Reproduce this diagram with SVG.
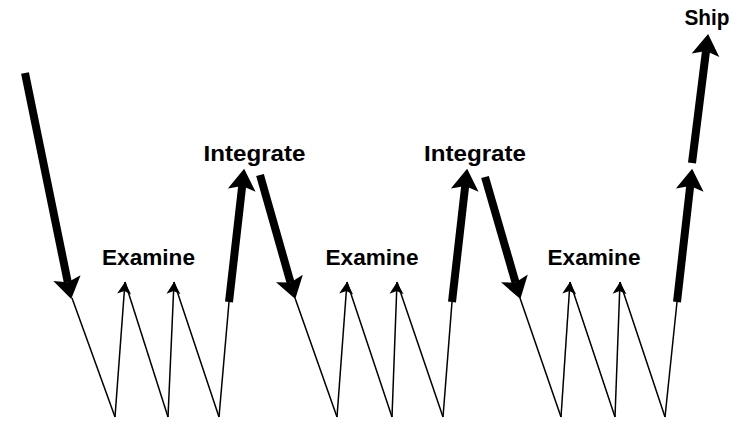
<svg xmlns="http://www.w3.org/2000/svg" width="741" height="421" viewBox="0 0 741 421">
  <style>
    .lbl { font-family: "Liberation Sans", Arial, sans-serif; font-weight: bold; font-size: 22px; fill: #000; text-anchor: middle; }
    .thick { stroke: #000; stroke-width: 8; fill: none; marker-end: url(#bigHead); }
    .thin { stroke: #000; stroke-width: 1.5; fill: none; }
    .thinUp { stroke: #000; stroke-width: 1.5; fill: none; marker-end: url(#smallHead); }
  </style>
  <defs>
    <marker id="bigHead" markerUnits="userSpaceOnUse" markerWidth="24" markerHeight="30" viewBox="0 -14 22 28" refX="4" refY="0" orient="auto" overflow="visible">
      <path d="M20,0 L0,-13 L4,0 L0,13 Z" fill="#000"/>
    </marker>
    <marker id="smallHead" markerUnits="userSpaceOnUse" markerWidth="14" markerHeight="16" viewBox="0 -8 13 16" refX="12" refY="0" orient="auto" overflow="visible">
      <path d="M12,0 L0,-7 L3,0 L0,7 Z" fill="#000"/>
    </marker>
  </defs>
  <rect width="741" height="421" fill="#fff"/>

  <g id="connectors">
    <!-- thick arrows -->
    <line class="thick" x1="25" y1="73" x2="67.8" y2="282.3"/>
    <line class="thick" x1="229" y1="302" x2="242.2" y2="185.9"/>
    <line class="thick" x1="260" y1="175" x2="290.6" y2="282.6"/>
    <line class="thick" x1="452" y1="302" x2="465.2" y2="185.9"/>
    <line class="thick" x1="485" y1="177" x2="515.6" y2="282.6"/>
    <line class="thick" x1="677" y1="302" x2="690.2" y2="185.9"/>
    <line class="thick" x1="692" y1="163" x2="706" y2="50.9"/>
    <!-- group 1 thin zigzag -->
    <line class="thin" x1="72" y1="298" x2="115" y2="417"/>
    <line class="thinUp" x1="115" y1="417" x2="125" y2="282"/>
    <line class="thin" x1="125" y1="282" x2="168" y2="417"/>
    <line class="thinUp" x1="168" y1="417" x2="174" y2="282"/>
    <line class="thin" x1="174" y1="282" x2="219" y2="417"/>
    <line class="thin" x1="219" y1="417" x2="229" y2="302"/>
    <!-- group 2 -->
    <line class="thin" x1="295" y1="298" x2="337" y2="417"/>
    <line class="thinUp" x1="337" y1="417" x2="347" y2="282"/>
    <line class="thin" x1="347" y1="282" x2="392" y2="417"/>
    <line class="thinUp" x1="392" y1="417" x2="397" y2="282"/>
    <line class="thin" x1="397" y1="282" x2="443" y2="417"/>
    <line class="thin" x1="443" y1="417" x2="452" y2="302"/>
    <!-- group 3 -->
    <line class="thin" x1="520" y1="298" x2="561" y2="417"/>
    <line class="thinUp" x1="561" y1="417" x2="570" y2="282"/>
    <line class="thin" x1="570" y1="282" x2="615" y2="417"/>
    <line class="thinUp" x1="615" y1="417" x2="620" y2="282"/>
    <line class="thin" x1="620" y1="282" x2="665" y2="417"/>
    <line class="thin" x1="665" y1="417" x2="677" y2="302"/>
  </g>

  <g id="examine1"><text class="lbl" x="148.5" y="265" textLength="93" lengthAdjust="spacingAndGlyphs">Examine</text></g>
  <g id="integrate1"><text class="lbl" x="254.5" y="161" textLength="102" lengthAdjust="spacingAndGlyphs">Integrate</text></g>
  <g id="examine2"><text class="lbl" x="372" y="265" textLength="93" lengthAdjust="spacingAndGlyphs">Examine</text></g>
  <g id="integrate2"><text class="lbl" x="475" y="161" textLength="102" lengthAdjust="spacingAndGlyphs">Integrate</text></g>
  <g id="examine3"><text class="lbl" x="594" y="265" textLength="93" lengthAdjust="spacingAndGlyphs">Examine</text></g>
  <g id="ship"><text class="lbl" x="707" y="25" textLength="45" lengthAdjust="spacingAndGlyphs">Ship</text></g>
</svg>
